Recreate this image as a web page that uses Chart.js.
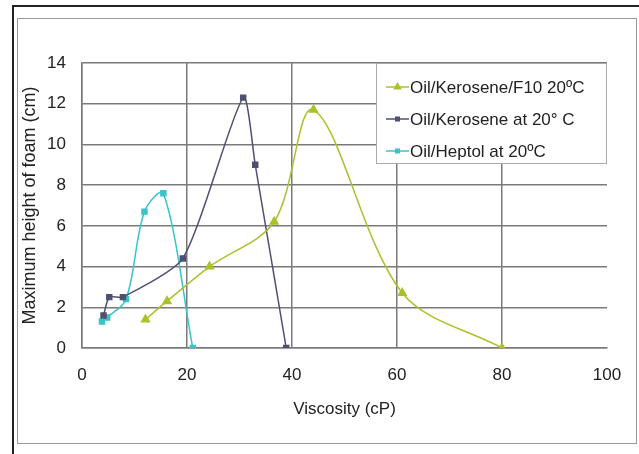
<!DOCTYPE html>
<html>
<head>
<meta charset="utf-8">
<script src="https://cdn.jsdelivr.net/npm/chart.js"></script>
<style>
  body { margin: 0; background: #fff; }
  #wrap { width: 639px; height: 454px; }
</style>
</head>
<body>
<div id="wrap"><canvas id="grafico" width="639" height="454"></canvas></div>
<script>
const ctx = document.getElementById('grafico');

// viscosidad (cP) y altura maxima de espuma (cm) de cada serie
const series = ['Oil/Kerosene/F10 20ºC', 'Oil/Kerosene at 20° C', 'Oil/Heptol at 20ºC'];
const viscF10 = [12.1, 16.2, 24.3, 36.6, 44.1, 61.0, 80.0];
const alturaF10 = [1.4, 2.3, 4.0, 6.2, 11.7, 2.7, 0.0];
const viscKero = [4.1, 5.2, 7.8, 19.2, 30.7, 33.0, 38.9];
const alturaKero = [1.6, 2.5, 2.5, 4.4, 12.3, 9.0, 0.0];
const viscHept = [3.8, 4.8, 8.4, 11.9, 15.5, 21.1];
const alturaHept = [1.3, 1.5, 2.4, 6.7, 7.6, 0.0];
const ticksX = [0, 20, 40, 60, 80, 100];
const ticksY = [0, 2, 4, 6, 8, 10, 12, 14];

const colores = ['#a9c22c', '#4f4f72', '#38c4c8'];
const marcadores = ['triangle', 'rect', 'rect'];
const radios = [4.5, 3.5, 3.5];
const suavizado = [0.33, 0.22, 0.33];

function puntos(xs, ys) {
  return xs.map((x, i) => ({ x: x, y: ys[i] }));
}
const valores = [puntos(viscF10, alturaF10), puntos(viscKero, alturaKero), puntos(viscHept, alturaHept)];

const fuente = "'Liberation Sans', Arial, sans-serif";

// marco de la figura
const marco = {
  id: 'marco',
  beforeDraw(chart) {
    const c = chart.ctx;
    c.save();
    c.fillStyle = '#fff';
    c.fillRect(0, 0, chart.width, chart.height);
    c.strokeStyle = '#999';
    c.lineWidth = 1;
    c.strokeRect(17.5, 18.5, 619, 425);
    c.strokeStyle = '#222';
    c.lineWidth = 2;
    c.beginPath();
    c.moveTo(13, chart.height);
    c.lineTo(13, 6);
    c.lineTo(chart.width, 6);
    c.stroke();
    c.restore();
  }
};

// leyenda dentro del area del grafico
const leyenda = {
  id: 'leyenda',
  afterDraw(chart) {
    const c = chart.ctx;
    const a = chart.chartArea;
    const w = 231, h = 101;
    const x0 = a.right - w, y0 = a.top;
    c.save();
    c.fillStyle = '#fff';
    c.fillRect(x0, y0, w, h);
    c.strokeStyle = '#aaa';
    c.lineWidth = 1;
    c.strokeRect(x0 + 0.5, y0 + 0.5, w - 1, h - 1);
    chart.data.datasets.forEach((ds, i) => {
      const y = y0 + 24 + i * 32;
      c.strokeStyle = ds.borderColor;
      c.lineWidth = 1.5;
      c.beginPath();
      c.moveTo(x0 + 10, y);
      c.lineTo(x0 + 33, y);
      c.stroke();
      Chart.helpers.drawPoint(c, {
        pointStyle: ds.pointStyle, radius: ds.pointRadius - 1, borderWidth: 1, rotation: 0
      }, x0 + 21.5, y);
      c.fillStyle = ds.borderColor;
      c.fill();
      c.fillStyle = '#222';
      c.font = '17px ' + fuente;
      c.textBaseline = 'middle';
      c.fillText(ds.label, x0 + 34, y + 1);
    });
    c.restore();
  }
};

const grafico = new Chart(ctx, {
  type: 'scatter',
  data: {
    datasets: series.map((nombre, i) => ({
      label: nombre,
      data: valores[i],
      showLine: true,
      tension: suavizado[i],
      borderColor: colores[i],
      backgroundColor: colores[i],
      pointBackgroundColor: colores[i],
      pointBorderColor: colores[i],
      borderWidth: 1.5,
      pointStyle: marcadores[i],
      pointRadius: radios[i],
      pointHoverRadius: radios[i]
    }))
  },
  options: {
    responsive: false,
    animation: false,
    events: [],
    layout: {
      padding: { left: 0, top: 63, right: 32, bottom: 0 }
    },
    plugins: {
      legend: { display: false },
      tooltip: { enabled: false }
    },
    scales: {
      x: {
        min: 0,
        max: 100,
        afterFit(scale) { scale.height = 106; },
        afterBuildTicks(scale) { scale.ticks = ticksX.map(v => ({ value: v })); },
        ticks: { color: '#222', padding: 17, font: { family: fuente, size: 17 } },
        grid: {
          drawTicks: false,
          color: ctx => ctx.tick && ctx.tick.value === 100 ? 'rgba(0,0,0,0)' : '#7a7a7a',
          lineWidth: 1.5
        },
        border: { color: '#7a7a7a', width: 1.5 },
        title: {
          display: true,
          text: 'Viscosity (cP)',
          color: '#222',
          font: { family: fuente, size: 17 },
          padding: { top: 0, bottom: 34 }
        }
      },
      y: {
        min: 0,
        max: 14,
        afterFit(scale) { scale.width = 82; },
        afterBuildTicks(scale) { scale.ticks = ticksY.map(v => ({ value: v })); },
        ticks: { color: '#222', padding: 16, font: { family: fuente, size: 17 } },
        grid: { drawTicks: false, color: '#7a7a7a', lineWidth: 1.5 },
        border: { color: '#7a7a7a', width: 1.5 },
        title: {
          display: true,
          text: 'Maximum height of foam (cm)',
          color: '#222',
          font: { family: fuente, size: 18 },
          padding: { top: 19, bottom: 0 }
        }
      }
    }
  },
  plugins: [marco, leyenda]
});
</script>
</body>
</html>
